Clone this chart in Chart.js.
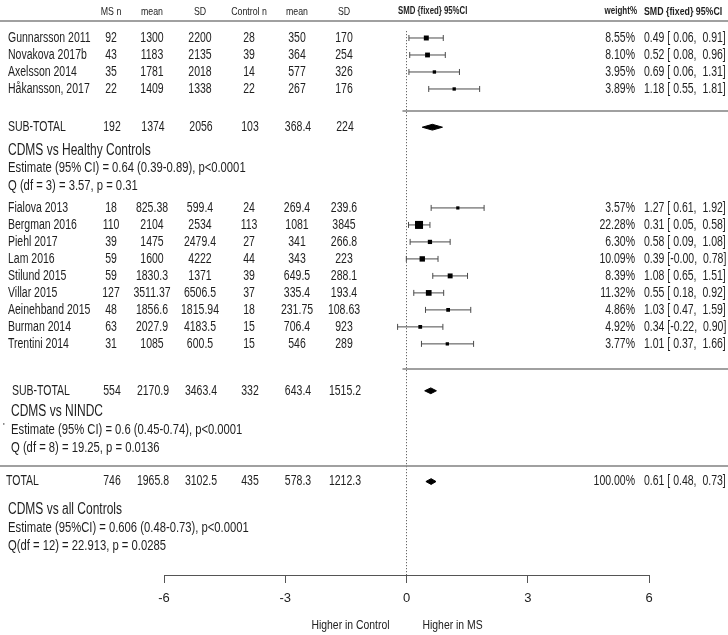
<!DOCTYPE html>
<html>
<head>
<meta charset="utf-8">
<script src="https://cdn.jsdelivr.net/npm/chart.js@4.4.0/dist/chart.umd.min.js"></script>
<style>
  html, body { margin: 0; padding: 0; background: #fff; }
  #wrap { width: 728px; height: 635px; }
</style>
</head>
<body>
<div id="wrap"><canvas id="forest" width="728" height="635"></canvas></div>
<script>
// ---- data ----
const xTicks = [-6, -3, 0, 3, 6];
const columnHeaders = ['MS n', 'mean', 'SD', 'Control n', 'mean', 'SD'];

// CDMS vs healthy controls
const hcStudies = ['Gunnarsson 2011', 'Novakova 2017b', 'Axelsson 2014', 'Håkansson, 2017'];
const hcMsN = [92, 43, 35, 22];
const hcMsMean = [1300, 1183, 1781, 1409];
const hcMsSD = [2200, 2135, 2018, 1338];
const hcCtrlN = [28, 39, 14, 22];
const hcCtrlMean = [350, 364, 577, 267];
const hcCtrlSD = [170, 254, 326, 176];
const hcWeight = [8.55, 8.10, 3.95, 3.89];
const hcSmd = [0.49, 0.52, 0.69, 1.18];
const hcLow = [0.06, 0.08, 0.06, 0.55];
const hcHigh = [0.91, 0.96, 1.31, 1.81];

// CDMS vs NINDC
const ndStudies = ['Fialova 2013', 'Bergman 2016', 'Piehl 2017', 'Lam 2016', 'Stilund 2015',
  'Villar 2015', 'Aeinehband 2015', 'Burman 2014', 'Trentini 2014'];
const ndMsN = [18, 110, 39, 59, 59, 127, 48, 63, 31];
const ndMsMean = [825.38, 2104, 1475, 1600, 1830.3, 3511.37, 1856.6, 2027.9, 1085];
const ndMsSD = [599.4, 2534, 2479.4, 4222, 1371, 6506.5, 1815.94, 4183.5, 600.5];
const ndCtrlN = [24, 113, 27, 44, 39, 37, 18, 15, 15];
const ndCtrlMean = [269.4, 1081, 341, 343, 649.5, 335.4, 231.75, 706.4, 546];
const ndCtrlSD = [239.6, 3845, 266.8, 223, 288.1, 193.4, 108.63, 923, 289];
const ndWeight = [3.57, 22.28, 6.30, 10.09, 8.39, 11.32, 4.86, 4.92, 3.77];
const ndSmd = [1.27, 0.31, 0.58, 0.39, 1.08, 0.55, 1.03, 0.34, 1.01];
const ndLow = [0.61, 0.05, 0.09, -0.004, 0.65, 0.18, 0.47, -0.22, 0.37];
const ndHigh = [1.92, 0.58, 1.08, 0.78, 1.51, 0.92, 1.59, 0.90, 1.66];

// pooled rows: healthy sub-total, NINDC sub-total, total
const poolLabels = ['SUB-TOTAL', 'SUB-TOTAL', 'TOTAL'];
const poolMsN = [192, 554, 746];
const poolMsMean = [1374, 2170.9, 1965.8];
const poolMsSD = [2056, 3463.4, 3102.5];
const poolCtrlN = [103, 332, 435];
const poolCtrlMean = [368.4, 643.4, 578.3];
const poolCtrlSD = [224, 1515.2, 1212.3];
const poolEst = [0.64, 0.60, 0.61];
const poolLow = [0.39, 0.45, 0.48];
const poolHigh = [0.89, 0.74, 0.73];
const totalWeight = 100;

const summaryTitles = ['CDMS vs Healthy Controls', 'CDMS vs NINDC', 'CDMS vs all Controls'];
const summaryEstimates = [
  'Estimate (95% CI) = 0.64 (0.39-0.89), p<0.0001',
  'Estimate (95% CI) = 0.6 (0.45-0.74), p<0.0001',
  'Estimate (95%CI) = 0.606 (0.48-0.73), p<0.0001'
];
const summaryQ = [
  'Q (df = 3) = 3.57, p = 0.31',
  'Q (df = 8) = 19.25, p = 0.0136',
  'Q(df = 12) = 22.913, p = 0.0285'
];

// ---- layout (row slots on the hidden y scale, pixel columns) ----
const FONT = '"Liberation Sans Narrow", "Arial Narrow", "Liberation Sans", Arial, sans-serif';
const Y_MAX = 32.6;
const HC_START = 1;
const ND_START = 11;
const POOL_SLOTS = [6.25, 21.76, 27.1];
const SUMMARY_SLOTS = [7.6, 23, 28.76];
const SUMMARY_STEP = 1.05;
const SUMMARY_X = [8, 11, 8];
const POOL_X = [8, 12, 6];
const SEP_SLOTS = [5.3, 20.47];
const FULL_LINE_SLOT = 26.18;
const COLS = [111, 152, 200, 249, 297, 344];
const WEIGHT_RIGHT = 635;
const SMD_LEFT = 644;

function fmtCi(v) {
  const s = v.toFixed(2);
  return s.startsWith('-') ? s : ' ' + s;
}
function smdText(est, lo, hi) {
  return `${est.toFixed(2)} [${fmtCi(lo)}, ${fmtCi(hi)}]`;
}

function buildRows(names, msN, msMean, msSD, ctN, ctMean, ctSD, w, smd, lo, hi, start) {
  return names.map((name, i) => ({
    name, slot: start + i,
    values: [msN[i], msMean[i], msSD[i], ctN[i], ctMean[i], ctSD[i]],
    weight: w[i], smd: smd[i], lo: lo[i], hi: hi[i]
  }));
}

const studyRows = [
  ...buildRows(hcStudies, hcMsN, hcMsMean, hcMsSD, hcCtrlN, hcCtrlMean, hcCtrlSD,
    hcWeight, hcSmd, hcLow, hcHigh, HC_START),
  ...buildRows(ndStudies, ndMsN, ndMsMean, ndMsSD, ndCtrlN, ndCtrlMean, ndCtrlSD,
    ndWeight, ndSmd, ndLow, ndHigh, ND_START)
];

// ---- datasets ----
const squares = {
  type: 'scatter',
  data: studyRows.map(r => ({ x: r.smd, y: r.slot })),
  pointStyle: 'rect',
  pointRadius: studyRows.map(r => Math.sqrt(r.weight) * 1.2),
  backgroundColor: '#000',
  borderWidth: 0
};

const whiskerData = [];
studyRows.forEach(r => {
  whiskerData.push({ x: r.lo, y: r.slot }, { x: r.hi, y: r.slot }, { x: null, y: null });
});
const whiskers = {
  type: 'line',
  data: whiskerData,
  borderColor: '#4a4a4a',
  borderWidth: 1,
  pointStyle: 'line',
  rotation: 90,
  pointRadius: 3,
  pointBorderColor: '#4a4a4a',
  pointBorderWidth: 1,
  spanGaps: false,
  fill: false
};

const diamonds = poolEst.map((est, i) => ({
  type: 'line',
  data: [
    { x: poolLow[i], y: POOL_SLOTS[i] },
    { x: est, y: POOL_SLOTS[i] - 0.17 },
    { x: poolHigh[i], y: POOL_SLOTS[i] },
    { x: est, y: POOL_SLOTS[i] + 0.17 },
    { x: poolLow[i], y: POOL_SLOTS[i] }
  ],
  borderColor: '#000',
  borderWidth: 1,
  backgroundColor: '#000',
  pointRadius: 0,
  fill: 'shape',
  tension: 0
}));

const zeroLine = {
  type: 'line',
  data: [{ x: 0, y: 0.6 }, { x: 0, y: Y_MAX }],
  borderColor: '#444',
  borderWidth: 1,
  borderDash: [1, 2],
  pointRadius: 0,
  fill: false
};

// ---- text table drawn against the chart scales ----
// no narrow face is installed, so Liberation Sans is squeezed horizontally
function drawText(ctx, text, x, y, align, size, squeeze, bold) {
  ctx.save();
  ctx.font = `${bold ? 'bold ' : ''}${size}px ${FONT}`;
  ctx.textAlign = align;
  ctx.translate(x, y);
  ctx.scale(squeeze, 1);
  ctx.fillText(text, 0, 0);
  ctx.restore();
}

const tablePlugin = {
  id: 'forestTable',
  afterDraw(chart) {
    const ctx = chart.ctx;
    const xs = chart.scales.x;
    const ys = chart.scales.y;
    const py = v => ys.getPixelForValue(v);
    const W = chart.width;
    const rowTxt = (t, x, y, a) => drawText(ctx, t, x, y, a, 14, 0.75);
    ctx.save();
    ctx.textBaseline = 'middle';
    ctx.fillStyle = '#1e1e1e';

    // header
    const hy = py(-0.55);
    columnHeaders.forEach((h, i) => drawText(ctx, h, COLS[i], hy, 'center', 11, 0.8));
    drawText(ctx, 'SMD {fixed} 95%CI', 398, hy, 'left', 10, 0.78, true);
    drawText(ctx, 'SMD {fixed} 95%CI', SMD_LEFT, hy, 'left', 11, 0.8, true);
    drawText(ctx, 'weight%', WEIGHT_RIGHT + 2, hy, 'right', 10, 0.8, true);

    // study rows
    studyRows.forEach(r => {
      const y = py(r.slot);
      rowTxt(r.name, 8, y, 'left');
      r.values.forEach((v, i) => rowTxt(String(v), COLS[i], y, 'center'));
      rowTxt(r.weight.toFixed(2) + '%', WEIGHT_RIGHT, y, 'right');
      rowTxt(smdText(r.smd, r.lo, r.hi), SMD_LEFT, y, 'left');
    });

    // pooled rows
    poolLabels.forEach((lab, i) => {
      const y = py(POOL_SLOTS[i]);
      rowTxt(lab, POOL_X[i], y, 'left');
      [poolMsN[i], poolMsMean[i], poolMsSD[i], poolCtrlN[i], poolCtrlMean[i], poolCtrlSD[i]]
        .forEach((v, j) => rowTxt(String(v), COLS[j] + 1, y, 'center'));
    });
    const ty = py(POOL_SLOTS[2]);
    rowTxt(totalWeight.toFixed(2) + '%', WEIGHT_RIGHT, ty, 'right');
    rowTxt(smdText(poolEst[2], poolLow[2], poolHigh[2]), SMD_LEFT, ty, 'left');

    // summary statistics
    summaryTitles.forEach((t, i) => {
      const s = SUMMARY_SLOTS[i];
      drawText(ctx, t, SUMMARY_X[i], py(s), 'left', 16, 0.75);
      drawText(ctx, summaryEstimates[i], SUMMARY_X[i], py(s + SUMMARY_STEP), 'left', 15, 0.75);
      drawText(ctx, summaryQ[i], SUMMARY_X[i], py(s + 2 * SUMMARY_STEP), 'left', 15, 0.75);
    });
    drawText(ctx, "'", 3, py(SUMMARY_SLOTS[1] + SUMMARY_STEP) - 3, 'left', 9, 1);

    // rules
    ctx.strokeStyle = '#808080';
    ctx.lineWidth = 1.5;
    const hline = (x0, x1, slot) => {
      const y = Math.round(py(slot));
      ctx.beginPath();
      ctx.moveTo(x0, y);
      ctx.lineTo(x1, y);
      ctx.stroke();
    };
    hline(0, W, 0);
    SEP_SLOTS.forEach(s => hline(xs.getPixelForValue(-0.1), W, s));
    hline(0, W, FULL_LINE_SLOT);

    // direction labels under the axis
    const zx = xs.getPixelForValue(0);
    ctx.fillStyle = '#222';
    drawText(ctx, 'Higher in Control', zx - 17, chart.height - 10, 'right', 13, 0.8);
    drawText(ctx, 'Higher in MS', zx + 16, chart.height - 10, 'left', 13, 0.8);
    ctx.restore();
  }
};

new Chart(document.getElementById('forest'), {
  type: 'scatter',
  data: { datasets: [squares, ...diamonds, whiskers, zeroLine] },
  options: {
    responsive: false,
    animation: false,
    devicePixelRatio: 1,
    layout: { padding: { left: 164, right: 79, top: 21, bottom: 29 } },
    plugins: { legend: { display: false }, tooltip: { enabled: false } },
    scales: {
      x: {
        type: 'linear',
        min: -6,
        max: 6,
        afterBuildTicks: s => { s.ticks = xTicks.map(v => ({ value: v })); },
        afterFit: s => { s.height = 31; },
        grid: { drawOnChartArea: false, drawTicks: true, tickLength: 8, color: '#555' },
        border: { display: true, color: '#555', width: 1 },
        ticks: { color: '#222', font: { family: FONT, size: 13 }, padding: 8 }
      },
      y: { type: 'linear', display: false, reverse: true, min: 0, max: Y_MAX }
    }
  },
  plugins: [tablePlugin]
});
</script>
</body>
</html>
